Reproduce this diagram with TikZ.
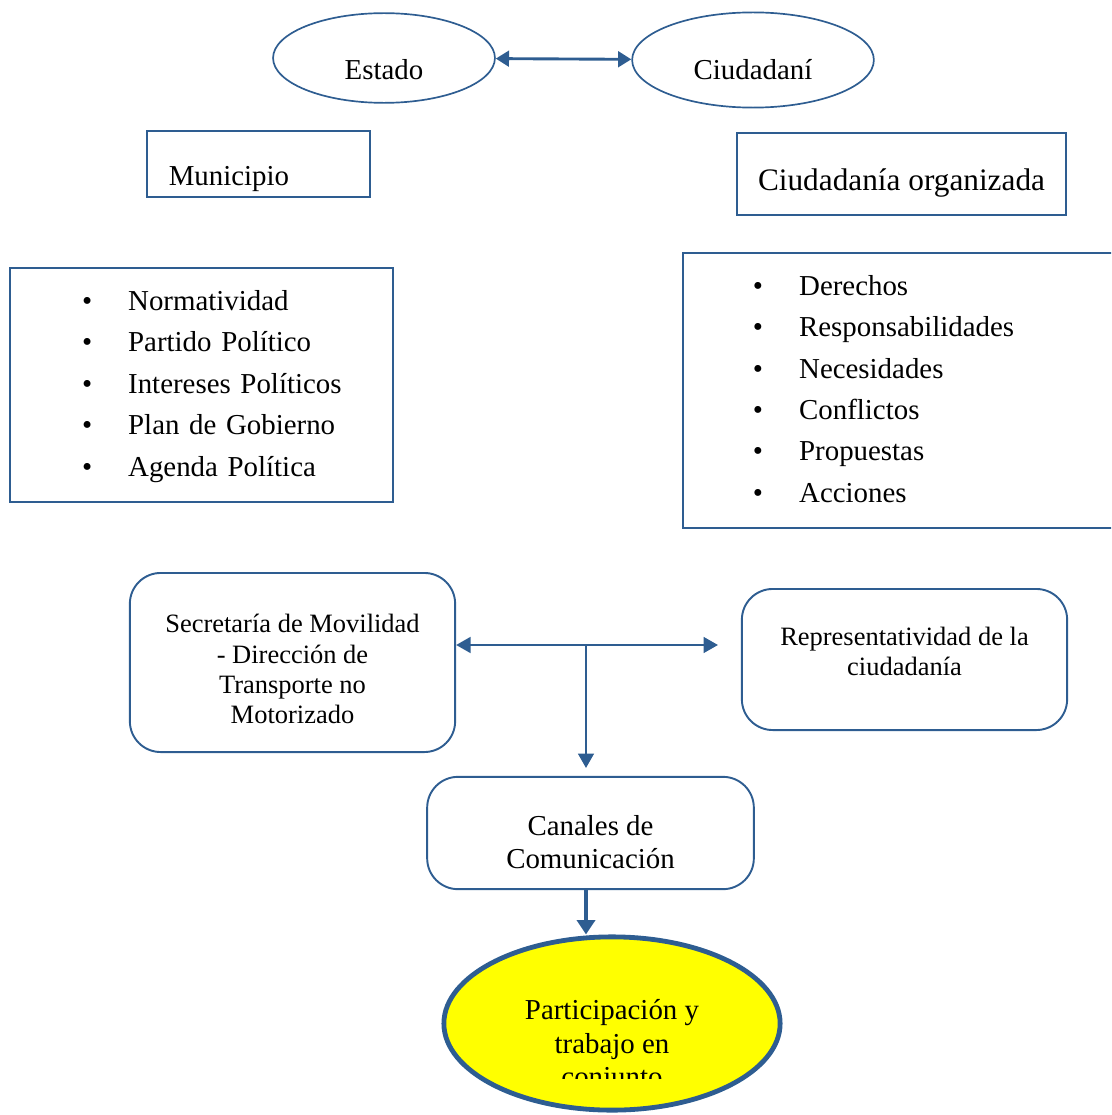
\documentclass[tikz,border=0pt]{standalone}
\usepackage{fontspec}
\setmainfont{Liberation Serif}
\usepackage{tikz}
\usetikzlibrary{shapes.geometric, arrows.meta, positioning, calc}
\definecolor{linea}{RGB}{46, 93, 145}
\definecolor{amarillo}{RGB}{255, 255, 0}
\tikzstyle{ovalo} = [ellipse, draw=linea, line width=0.7pt, inner sep=0pt, text depth=0pt, font=\fontsize{12}{14}\selectfont]
\tikzstyle{caja} = [rectangle, draw=linea, line width=0.9pt, inner sep=0pt]
\tikzstyle{lista} = [caja, align=left, font=\fontsize{12}{17.2}\selectfont]
\tikzstyle{redondo} = [rectangle, rounded corners=0.45cm, draw=linea, line width=0.8pt, align=center, inner sep=0pt]
\tikzstyle{flecha} = [line width=1.1pt, draw=linea, -{Triangle[length=6pt, width=6.5pt]}]
\tikzstyle{doble} = [flecha, {Triangle[length=6pt, width=6.5pt]}-{Triangle[length=6pt, width=6.5pt]}]

\begin{document}
\begin{tikzpicture}[x=0.0146cm, y=-0.0146cm]
    \clip (0,0) rectangle (1111,1115);

    % Estado y ciudadania
    \node[ovalo, minimum width=3.24cm, minimum height=1.31cm, text height=0.64cm] (estado) at (384,58) {Estado};
    \node[ovalo, minimum width=3.53cm, minimum height=1.39cm, text height=0.56cm] (ciuda) at (753,60) {Ciudadaní};
    \draw[doble, line width=1.2pt, {Triangle[length=5.5pt, width=6.5pt]}-{Triangle[length=5.5pt, width=6.5pt]}] (estado) -- (ciuda);

    % Actores
    \node[caja, minimum width=3.26cm, minimum height=0.96cm, text width=2.62cm, inner xsep=0.32cm, align=left,
          text height=0.79cm, text depth=0.17cm, font=\fontsize{12}{14}\selectfont] (muni) at (258.5,164) {Municipio};
    \node[caja, minimum width=4.80cm, minimum height=1.20cm, text height=0.835cm, text depth=0.365cm,
          font=\fontsize{13}{15}\selectfont] (ciuorg) at (901.5,174) {Ciudadanía organizada};

    % Listas
    \node[lista, minimum width=5.59cm, minimum height=3.42cm, text width=5.59cm] (polit) at (201.5,385) {
        \begin{tabular}{@{\hspace{1.05cm}}l@{\hspace{15pt}}l}
            \textbullet & Normatividad \\
            \textbullet & Partido Político \\
            \textbullet & Intereses Políticos \\
            \textbullet & Plan de Gobierno \\
            \textbullet & Agenda Política
        \end{tabular}
    };
    \node[lista, minimum width=6.67cm, minimum height=4.02cm, text width=6.67cm] (dere) at (911.5,390.5) {
        \begin{tabular}{@{\hspace{1.02cm}}l@{\hspace{15pt}}l}
            \textbullet & Derechos \\
            \textbullet & Responsabilidades \\
            \textbullet & Necesidades \\
            \textbullet & Conflictos \\
            \textbullet & Propuestas \\
            \textbullet & Acciones
        \end{tabular}
    };

    % Instancias
    \node[redondo, minimum width=4.75cm, minimum height=2.61cm, text height=2.205cm, text depth=0.41cm,
          font=\fontsize{11}{12.6}\selectfont] (secre) at (292.5,662.5) {Secretaría de Movilidad\\- Dirección de\\Transporte no\\Motorizado};
    \node[redondo, minimum width=4.75cm, minimum height=2.06cm, text height=1.27cm, text depth=0.79cm,
          font=\fontsize{11}{12.6}\selectfont] (repre) at (904.5,659.5) {Representatividad de la\\ciudadanía};
    \node[redondo, minimum width=4.77cm, minimum height=1.64cm, text height=1.34cm, text depth=0.29cm,
          font=\fontsize{12}{13.75}\selectfont] (canal) at (590.5,833) {Canales de\\Comunicación};

    % Resultado
    \node[ellipse, draw=linea, line width=2pt, fill=amarillo, minimum width=4.91cm, minimum height=2.53cm,
          inner sep=0pt, align=center, text height=0.89cm, text depth=0pt,
          font=\fontsize{12}{14.2}\selectfont] (parti) at (612,1023.5) {Participación y\\trabajo en};
    \begin{scope}
        \clip (500,1060) rectangle (720,1078);
        \node[anchor=base, font=\fontsize{12}{14.2}\selectfont] (conj) at (612,1086) {conjunto};
    \end{scope}

    % Conectores
    \coordinate (junc) at (586,645);
    \coordinate (tipder) at (718,645);
    \coordinate (tipabajo) at (586,768);
    \draw[doble] (secre.east |- junc) -- (tipder);
    \draw[flecha] (junc) -- (tipabajo);
    \draw[flecha, line width=2pt, -{Triangle[length=6pt, width=7.5pt]}] (canal.south -| junc) -- (junc |- parti.north);
\end{tikzpicture}
\end{document}
